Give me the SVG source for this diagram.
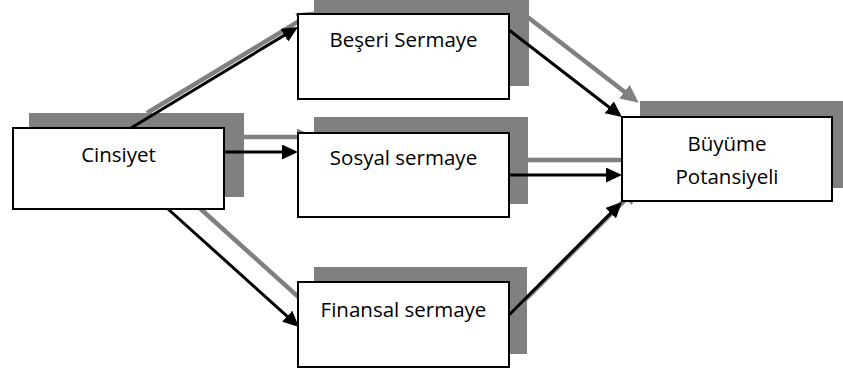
<svg xmlns="http://www.w3.org/2000/svg" width="843" height="369" viewBox="0 0 843 369">
  <defs>
    <style>
      .box { fill: #ffffff; stroke: #000000; stroke-width: 2; }
      .shadow { fill: #808080; stroke: none; }
      .conn { fill: none; stroke: #000000; stroke-width: 3; marker-end: url(#arrowBlack); }
      .conn-shadow { fill: none; stroke: #808080; stroke-width: 4.5; marker-end: url(#arrowGray); }
      .label { font-family: "Open Sans", "Noto Sans", sans-serif; font-size: 20.5px; fill: #000000; text-anchor: middle; }
    </style>
    <marker id="arrowBlack" markerUnits="userSpaceOnUse" markerWidth="16" markerHeight="15" refX="8" refY="7.5" orient="auto" viewBox="0 0 16 15">
      <path d="M0,0 L16,7.5 L0,15 z" fill="#000000"/>
    </marker>
    <marker id="arrowGray" markerUnits="userSpaceOnUse" markerWidth="18" markerHeight="17" refX="9" refY="8.5" orient="auto" viewBox="0 0 18 17">
      <path d="M0,0 L18,8.5 L0,17 z" fill="#808080"/>
    </marker>
  </defs>

  <g id="connector-shadows" transform="translate(16,-15)">
    <line class="conn-shadow" x1="131" y1="128" x2="291.2" y2="31.1"/>
    <line class="conn-shadow" x1="224" y1="152" x2="290" y2="152"/>
    <line class="conn-shadow" x1="168" y1="209" x2="293.1" y2="321.6"/>
    <line class="conn-shadow" x1="509" y1="30" x2="615.6" y2="112.2"/>
    <line class="conn-shadow" x1="509" y1="175" x2="614" y2="175"/>
    <line class="conn-shadow" x1="509" y1="315" x2="616.3" y2="207.6"/>
  </g>

  <g id="node-cinsiyet">
    <rect class="shadow" x="29" y="113" width="215" height="84"/>
    <rect class="box" x="13" y="128" width="211" height="81"/>
    <text class="label" x="118.5" y="162">Cinsiyet</text>
  </g>

  <g id="node-beseri">
    <rect class="shadow" x="314" y="-1" width="215" height="87"/>
    <rect class="box" x="298" y="14" width="211" height="85"/>
    <text class="label" x="403.5" y="47">Beşeri Sermaye</text>
  </g>

  <g id="node-sosyal">
    <rect class="shadow" x="314" y="117" width="214" height="87"/>
    <rect class="box" x="298" y="133" width="211" height="84"/>
    <text class="label" x="403.5" y="165">Sosyal sermaye</text>
  </g>

  <g id="node-finansal">
    <rect class="shadow" x="314" y="267" width="213" height="87"/>
    <rect class="box" x="298" y="282" width="211" height="85"/>
    <text class="label" x="403.5" y="317">Finansal sermaye</text>
  </g>

  <g id="node-buyume">
    <rect class="shadow" x="640" y="101" width="210" height="87"/>
    <rect class="box" x="622" y="117" width="210" height="84"/>
    <text class="label" x="727" y="151">Büyüme</text>
    <text class="label" x="727" y="184">Potansiyeli</text>
  </g>

  <g id="connectors">
    <line class="conn" x1="131" y1="128" x2="291.2" y2="31.1"/>
    <line class="conn" x1="224" y1="152" x2="290" y2="152"/>
    <line class="conn" x1="168" y1="209" x2="293.1" y2="321.6"/>
    <line class="conn" x1="509" y1="30" x2="615.6" y2="112.2"/>
    <line class="conn" x1="509" y1="175" x2="614" y2="175"/>
    <line class="conn" x1="509" y1="315" x2="616.3" y2="207.6"/>
  </g>
</svg>
